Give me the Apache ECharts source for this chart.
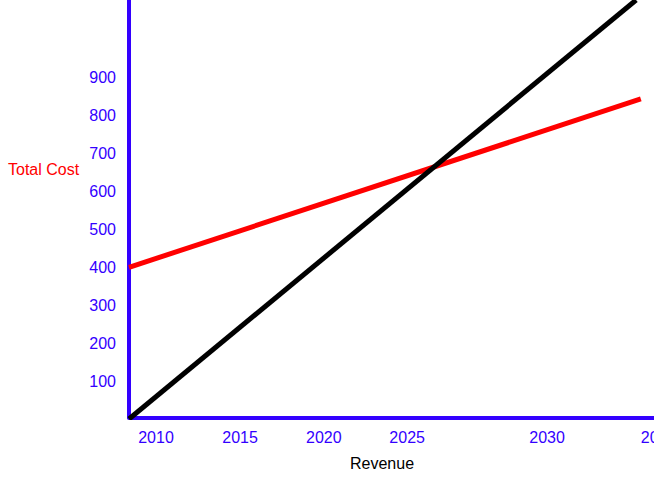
<!DOCTYPE html>
<html>
<head>
<meta charset="utf-8">
<script src="https://cdn.jsdelivr.net/npm/echarts@6/dist/echarts.min.js"></script>
<style>
html,body{margin:0;padding:0;background:#fff;}
#wrap{width:654px;height:484px;overflow:hidden;position:relative;}
#chart{width:700px;height:484px;}
</style>
</head>
<body>
<div id="wrap"><div id="chart"></div></div>
<script>
// Revenue axis (index units) and the year labels shown along it
var xTickValues = [5.15, 21.2, 37.2, 53.1, 79.8, 101.1];
var xTickLabels = ['2010', '2015', '2020', '2025', '2030', '2035'];
var yTickValues = [100, 200, 300, 400, 500, 600, 700, 800, 900];
// Total cost line: [revenue, value]
var totalCost = [[0, 400], [97.7, 844]];
// Revenue line: [revenue, value]
var revenueLine = [[0, 0], [96.8, 1105]];

var blue = '#3300ff';
var font = '"Liberation Sans", Arial, Helvetica, sans-serif';
var labelMap = {};
xTickValues.forEach(function (v, i) { labelMap[v] = xTickLabels[i]; });

var chart = echarts.init(document.getElementById('chart'), null, {renderer: 'svg'});
chart.setOption({
  animation: false,
  grid: {left: 129, right: 0, top: 0, bottom: 66.5, containLabel: false},
  xAxis: {
    type: 'value', min: 0, max: 109,
    axisLine: {show: true, lineStyle: {color: blue, width: 4}},
    axisTick: {show: false},
    splitLine: {show: false},
    axisLabel: {
      customValues: xTickValues,
      formatter: function (v) { return labelMap[v] || ''; },
      color: blue, fontSize: 16, fontFamily: font, margin: 12
    }
  },
  yAxis: {
    type: 'value', min: 4, max: 1105,
    axisLine: {show: true, lineStyle: {color: blue, width: 4}},
    axisTick: {show: false},
    splitLine: {show: false},
    axisLabel: {
      customValues: yTickValues,
      color: blue, fontSize: 16, fontFamily: font, margin: 13
    }
  },
  graphic: [
    {type: 'text', left: 8, top: 161, style: {text: 'Total Cost', fill: '#ff0000', font: '16px ' + font}},
    {type: 'text', left: 350, top: 455, style: {text: 'Revenue', fill: '#000000', font: '16px ' + font}}
  ],
  series: [
    {type: 'line', name: 'Total Cost', data: totalCost, symbol: 'none', lineStyle: {color: '#ff0000', width: 5}},
    {type: 'line', name: 'Revenue', data: revenueLine, symbol: 'none', lineStyle: {color: '#000000', width: 5}}
  ]
});
</script>
</body>
</html>
